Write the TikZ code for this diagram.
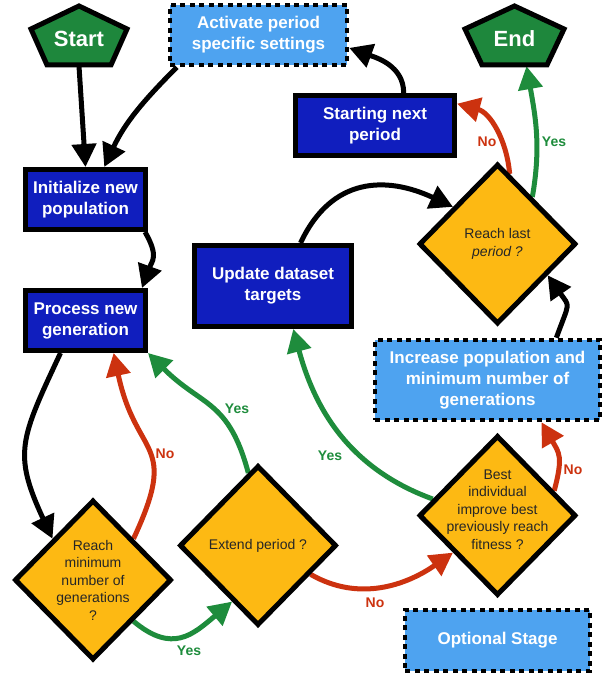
\documentclass[tikz,border=0pt]{standalone}
\usepackage{fontspec}
\setmainfont{Liberation Sans}
\usetikzlibrary{shapes.geometric,arrows.meta,calc,backgrounds}
\definecolor{dblue}{RGB}{16,30,190}
\definecolor{lblue}{RGB}{78,163,240}
\definecolor{pgreen}{RGB}{30,135,60}
\definecolor{dyellow}{RGB}{253,185,19}
\definecolor{ared}{RGB}{204,50,15}
\definecolor{agreen}{RGB}{30,140,60}
\begin{document}
\begin{tikzpicture}[x=1pt,y=1pt,
  boxtext/.style={font=\bfseries\fontsize{17}{21}\selectfont, text=white, align=center},
  procbox/.style={boxtext, draw=black, line width=5pt, fill=dblue, inner sep=0pt},
  optbox/.style={boxtext, draw=black, line width=4.5pt, dash pattern=on 5pt off 4.5pt, fill=lblue, inner sep=0pt},
  decision/.style={diamond, draw=black, line width=5pt, fill=dyellow, minimum width=157pt, minimum height=160pt, inner sep=0pt},
  qtext/.style={font=\fontsize{14}{17.5}\selectfont, text=black!85, align=center},
  pentshape/.style={draw=black, line width=5pt, fill=pgreen, line join=miter},
  penttext/.style={font=\bfseries\fontsize{22}{26}\selectfont, text=white, minimum width=96pt, minimum height=54pt, inner sep=0pt},
  flow/.style={line width=5pt, color=black, -{Triangle[length=23pt,width=24pt]}},
  flowred/.style={flow, color=ared},
  flowgreen/.style={flow, color=agreen},
  lblyes/.style={font=\bfseries\fontsize{14}{17}\selectfont, text=agreen},
  lblno/.style={font=\bfseries\fontsize{14}{17}\selectfont, text=ared}
]
\useasboundingbox (0,0) rectangle (607,679);

% terminals
\filldraw[pentshape] (79,673) -- (127,650) -- (111,614) -- (47,614) -- (31,650) -- cycle;
\node[penttext] (start) at (79,640) {Start};
\filldraw[pentshape] (514.5,673) -- (564,650) -- (547,614) -- (482,614) -- (465,650) -- cycle;
\node[penttext] (end) at (514.5,640) {End};

% boxes
\node[optbox, minimum width=177pt, minimum height=60pt] (act) at (258.5,644) {Activate period\\specific settings};
\node[procbox, minimum width=159pt, minimum height=60pt] (next) at (375,553.5) {Starting next\\period};
\node[procbox, minimum width=120pt, minimum height=60pt] (init) at (85.5,479.5) {Initialize new\\population};
\node[procbox, minimum width=120pt, minimum height=60pt] (proc) at (85.5,358.5) {Process new\\generation};
\node[procbox, minimum width=157pt, minimum height=81pt] (upd) at (273,393) {Update dataset\\targets};
\node[optbox, minimum width=225pt, minimum height=80pt] (incr) at (487.5,299) {Increase population and\\minimum number of\\generations};
\node[optbox, minimum width=185pt, minimum height=61pt] (opt) at (497.5,38.5) {Optional Stage};

% decisions
\node[decision, label={[qtext]center:{Reach last\\\textit{period ?}}}] (lastq) at (497.5,435) {};
\node[decision, label={[qtext,yshift=6pt]center:{Best\\individual\\improve best\\previously reach\\fitness ?}}] (bestq) at (497.5,163.5) {};
\node[decision, label={[qtext]center:{Reach\\minimum\\number of\\generations\\?}}] (minq) at (93,99) {};
\node[decision, label={[qtext]center:{Extend period ?}}] (extq) at (258,133.5) {};

% labels
\node[lblno] (lno1) at (165,225) {No};
\node[lblyes] (lyes1) at (189,28) {Yes};
\node[lblyes] (lyes2) at (237,270) {Yes};
\node[lblno] (lno2) at (375,76) {No};
\node[lblyes] (lyes3) at (330,223) {Yes};
\node[lblno] (lno3) at (573,209) {No};
\node[lblno] (lno4) at (487,537) {No};
\node[lblyes] (lyes4) at (554,537) {Yes};

\begin{scope}[on background layer]
\draw[flow] (start.south) -- (init.north);
\draw[flow] ($(act.south west)!0.05!(act.south east)$) to[out=225,in=65] ($(init.north)!0.3!(init.north east)$);
\draw[flow] ($(init.south east)+(-3,0)$) to[out=-60,in=70,looseness=1.3] ($(proc.north east)+(-6,0)$);
\draw[flow] ($(proc.south west)!0.3!(proc.south east)$) to[out=-115,in=115,looseness=1.3] (minq.north west);
\draw[flowred] (minq.north east) to[out=65,in=-78,looseness=1.5] ($(proc.south)!0.45!(proc.south east)$);
\draw[flowgreen] (minq.south east) to[out=-40,in=-140,looseness=1.3] ($(extq.west)!0.68!(extq.south)$);
\draw[flowgreen] ($(extq.north)!0.12!(extq.west)$) to[out=105,in=-45,looseness=1.25] (proc.south east);
\draw[flowred] ($(extq.east)!0.35!(extq.south)$) to[out=-30,in=-145] ($(bestq.west)!0.45!(bestq.south)$);
\draw[flowgreen] ($(bestq.west)!0.2!(bestq.north)$) to[out=160,in=-75] ($(upd.south)!0.25!(upd.south east)$);
\draw[flowred] ($(bestq.north)!0.7!(bestq.east)$) to[out=75,in=-60,looseness=1.3] ($(incr.south)!0.47!(incr.south east)$);
\draw[flow] ($(incr.north)!0.6!(incr.north east)$) to[out=70,in=-55,looseness=1.6] ($(lastq.south)!0.62!(lastq.east)$);
\draw[flow] ($(upd.north west)!0.67!(upd.north east)$) to[out=65,in=155,looseness=1.2] ($(lastq.west)!0.45!(lastq.north)$);
\draw[flowred] ($(lastq.north)!0.15!(lastq.east)$) to[out=95,in=-15] ($(next.east)!0.67!(next.north east)$);
\draw[flowgreen] ($(lastq.north)!0.43!(lastq.east)$) to[out=80,in=-80] ($(end.south)+(12,0)$);
\draw[flow] ($(next.north)!0.35!(next.north east)$) to[out=90,in=-20] ($(act.east)!0.4!(act.south east)$);
\end{scope}
\end{tikzpicture}
\end{document}
